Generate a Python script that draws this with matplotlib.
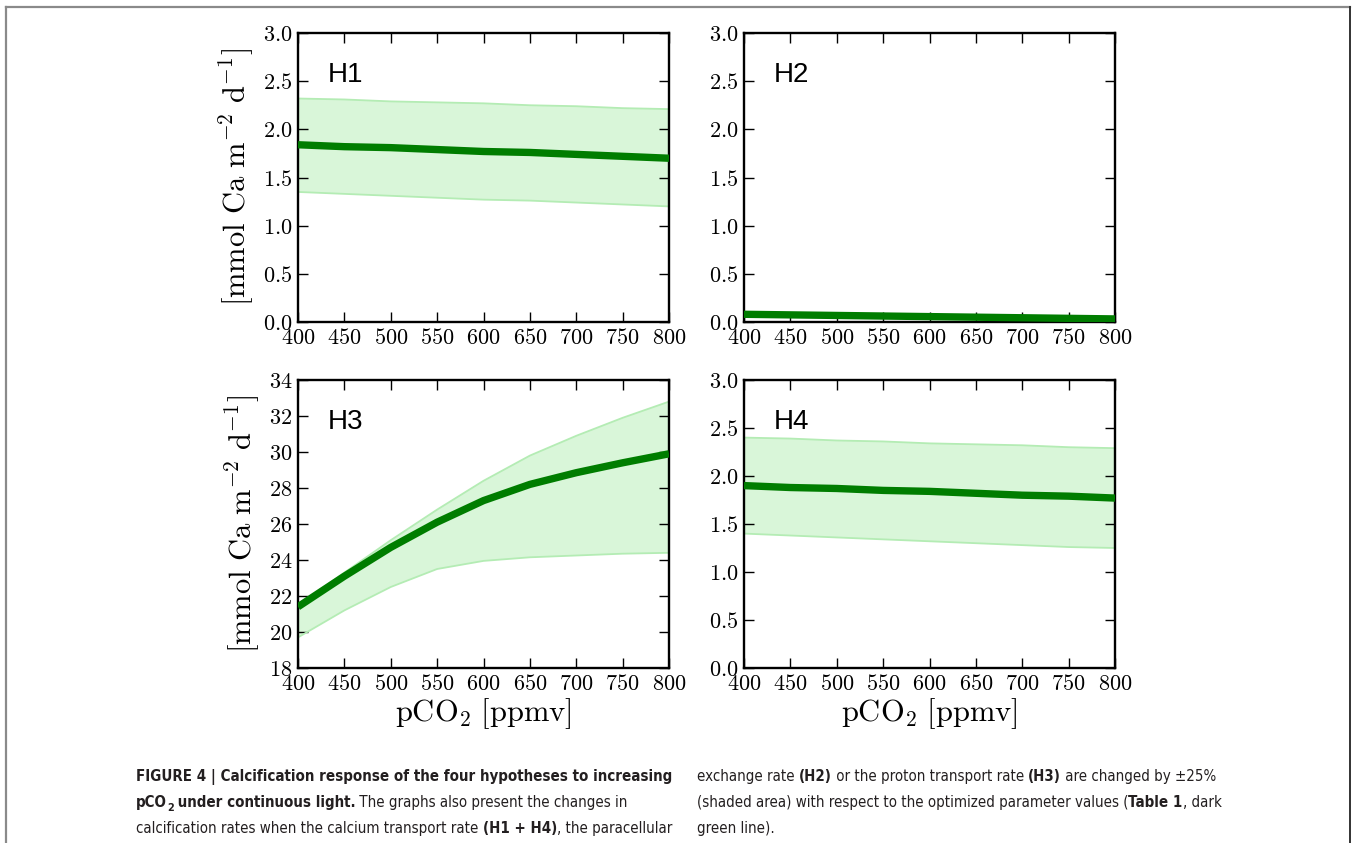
import matplotlib
matplotlib.use('Agg')
import matplotlib.pyplot as plt
from matplotlib import font_manager
from matplotlib.lines import Line2D
from matplotlib.ticker import FuncFormatter
from matplotlib.font_manager import FontProperties

# ---------------- data ----------------
pco2 = [400, 450, 500, 550, 600, 650, 700, 750, 800]

h1_mid = [1.84, 1.82, 1.81, 1.79, 1.77, 1.76, 1.74, 1.72, 1.70]
h1_hi = [2.32, 2.31, 2.29, 2.28, 2.27, 2.25, 2.24, 2.22, 2.21]
h1_lo = [1.35, 1.33, 1.31, 1.29, 1.27, 1.26, 1.24, 1.22, 1.20]

h2_mid = [0.080, 0.074, 0.068, 0.062, 0.056, 0.050, 0.044, 0.038, 0.032]
h2_hi = [0.095, 0.088, 0.081, 0.074, 0.067, 0.060, 0.053, 0.047, 0.041]
h2_lo = [0.066, 0.060, 0.055, 0.050, 0.045, 0.040, 0.035, 0.030, 0.025]

h3_mid = [21.4, 23.1, 24.7, 26.1, 27.3, 28.2, 28.85, 29.4, 29.9]
h3_hi = [21.5, 23.3, 25.1, 26.8, 28.4, 29.8, 30.9, 31.9, 32.8]
h3_lo = [19.7, 21.2, 22.5, 23.5, 23.95, 24.15, 24.25, 24.35, 24.4]

h4_mid = [1.90, 1.88, 1.87, 1.85, 1.84, 1.82, 1.80, 1.79, 1.77]
h4_hi = [2.40, 2.39, 2.37, 2.36, 2.34, 2.33, 2.32, 2.30, 2.29]
h4_lo = [1.40, 1.38, 1.36, 1.34, 1.32, 1.30, 1.28, 1.26, 1.25]

panel_names = ["H1", "H2", "H3", "H4"]
x_ticks = [400, 450, 500, 550, 600, 650, 700, 750, 800]
y_ticks_small = [0.0, 0.5, 1.0, 1.5, 2.0, 2.5, 3.0]
y_ticks_h3 = [18, 20, 22, 24, 26, 28, 30, 32, 34]

# ---------------- style ----------------
plt.rcParams['mathtext.fontset'] = 'cm'
W, H = 1354, 843
fig = plt.figure(figsize=(W / 100, H / 100), dpi=100)
fig.patch.set_facecolor('white')


def fx(px):
    return px / W


def fy(py):
    return 1 - py / H


LINE_C = '#007d00'
FILL_C = '#d9f6d9'
EDGE_C = '#b4ecb4'

panels = [
    (panel_names[0], h1_lo, h1_mid, h1_hi, y_ticks_small, (298, 33, 669, 322), True, False),
    (panel_names[1], h2_lo, h2_mid, h2_hi, y_ticks_small, (744, 33, 1115, 322), False, False),
    (panel_names[2], h3_lo, h3_mid, h3_hi, y_ticks_h3, (298, 380, 669, 668), True, True),
    (panel_names[3], h4_lo, h4_mid, h4_hi, y_ticks_small, (744, 380, 1115, 668), False, True),
]

for name, lo, mid, hi, yt, (l, t, r, b), ylab, xlab in panels:
    ax = fig.add_axes([fx(l), fy(b), (r - l) / W, (b - t) / H])
    ax.fill_between(pco2, lo, hi, facecolor=FILL_C, edgecolor='none', zorder=1)
    ax.plot(pco2, hi, color=EDGE_C, lw=1.3, zorder=2)
    ax.plot(pco2, lo, color=EDGE_C, lw=1.3, zorder=2)
    ax.plot(pco2, mid, color=LINE_C, lw=5.3, solid_capstyle='butt', zorder=3)
    ax.set_xlim(x_ticks[0], x_ticks[-1])
    ax.set_ylim(yt[0], yt[-1])
    ax.set_xticks(x_ticks)
    ax.set_yticks(yt)
    if name == "H3":
        ax.yaxis.set_major_formatter(FuncFormatter(lambda v, p: r'$%d$' % round(v)))
    else:
        ax.yaxis.set_major_formatter(FuncFormatter(lambda v, p: r'$%.1f$' % v))
    ax.xaxis.set_major_formatter(FuncFormatter(lambda v, p: r'$%d$' % round(v)))
    ax.tick_params(direction='in', top=True, right=True, length=7, width=1.0,
                   labelsize=16, colors='black')
    ax.tick_params(axis='x', pad=4)
    ax.tick_params(axis='y', pad=4)
    for sp in ax.spines.values():
        sp.set_linewidth(1.7)
    ax.text(0.08, 0.83, name, transform=ax.transAxes, fontsize=20,
            family=['Liberation Sans', 'DejaVu Sans'], va='baseline', ha='left')
    if ylab:
        ax.set_ylabel(r'$[\mathrm{mmol\ Ca\ m^{-2}\ d^{-1}}]$', fontsize=22, labelpad=4)
    if xlab:
        ax.set_xlabel(r'$\mathrm{pCO_2\ [ppmv]}$', fontsize=22, labelpad=2)

# ---------------- frame ----------------
fig.add_artist(Line2D([fx(6), fx(6)], [fy(843), fy(7)], color='#8a8a8a', lw=1.6,
                      transform=fig.transFigure))
fig.add_artist(Line2D([fx(6), fx(1350)], [fy(7), fy(7)], color='#8a8a8a', lw=1.6,
                      transform=fig.transFigure))
fig.add_artist(Line2D([fx(1350), fx(1350)], [fy(7), fy(843)], color='#333333', lw=1.4,
                      transform=fig.transFigure))

# ---------------- caption ----------------
# prefer a condensed sans face if one is installed
cap_reg = None
cap_bold = None
for f in font_manager.fontManager.ttflist:
    nm = (f.name + ' ' + f.fname).lower()
    if ('narrow' in nm or 'condensed' in nm or f.stretch in ('condensed', 'semi-condensed')) \
            and 'mono' not in nm and 'serif' not in f.name.lower() and 'oblique' not in nm \
            and 'italic' not in nm:
        isbold = f.weight in ('bold', 700, 'heavy') or (isinstance(f.weight, int) and f.weight >= 600) \
            or 'bold' in nm
        if isbold and cap_bold is None:
            cap_bold = f.fname
        if not isbold and cap_reg is None:
            cap_reg = f.fname

renderer = fig.canvas.get_renderer()


def fprop(bold, size):
    if cap_reg and cap_bold:
        return FontProperties(fname=cap_bold if bold else cap_reg, size=size)
    return FontProperties(family='Roboto', weight='bold' if bold else 'normal', size=size)


def text_w(s, fp):
    t = fig.text(0, 0, s + '|', fontproperties=fp)
    w1 = t.get_window_extent(renderer).width
    t.set_text('|')
    w2 = t.get_window_extent(renderer).width
    t.remove()
    return w1 - w2


line1 = "FIGURE 4 | Calcification response of the four hypotheses to increasing"
CAP = 10 * 535 / text_w(line1, fprop(True, 10))

CAP_C = '#231f20'


def rich(x, y, segs):
    for seg in segs:
        s, bold = seg[0], seg[1]
        sub = len(seg) > 2 and seg[2]
        size = CAP * (0.72 if sub else 1.0)
        fp = fprop(bold, size)
        yy = y + (4 if sub else 0)
        fig.text(fx(x), fy(yy), s, fontproperties=fp, va='baseline', ha='left', color=CAP_C)
        x += text_w(s, fp) - (1 if sub else 0)


rich(136, 781, [(line1, True)])
rich(136, 807, [("pCO", True), ("2", True, True), (" under continuous light.", True),
                (" The graphs also present the changes in", False)])
rich(136, 833, [("calcification rates when the calcium transport rate ", False),
                ("(H1 + H4)", True), (", the paracellular", False)])
rich(697, 781, [("exchange rate ", False), ("(H2)", True),
                (" or the proton transport rate ", False), ("(H3)", True),
                (" are changed by \u00b125%", False)])
rich(697, 807, [("(shaded area) with respect to the optimized parameter values (", False),
                ("Table 1", True), (", dark", False)])
rich(697, 833, [("green line).", False)])

fig.savefig('out.png', dpi=100, facecolor='white')
